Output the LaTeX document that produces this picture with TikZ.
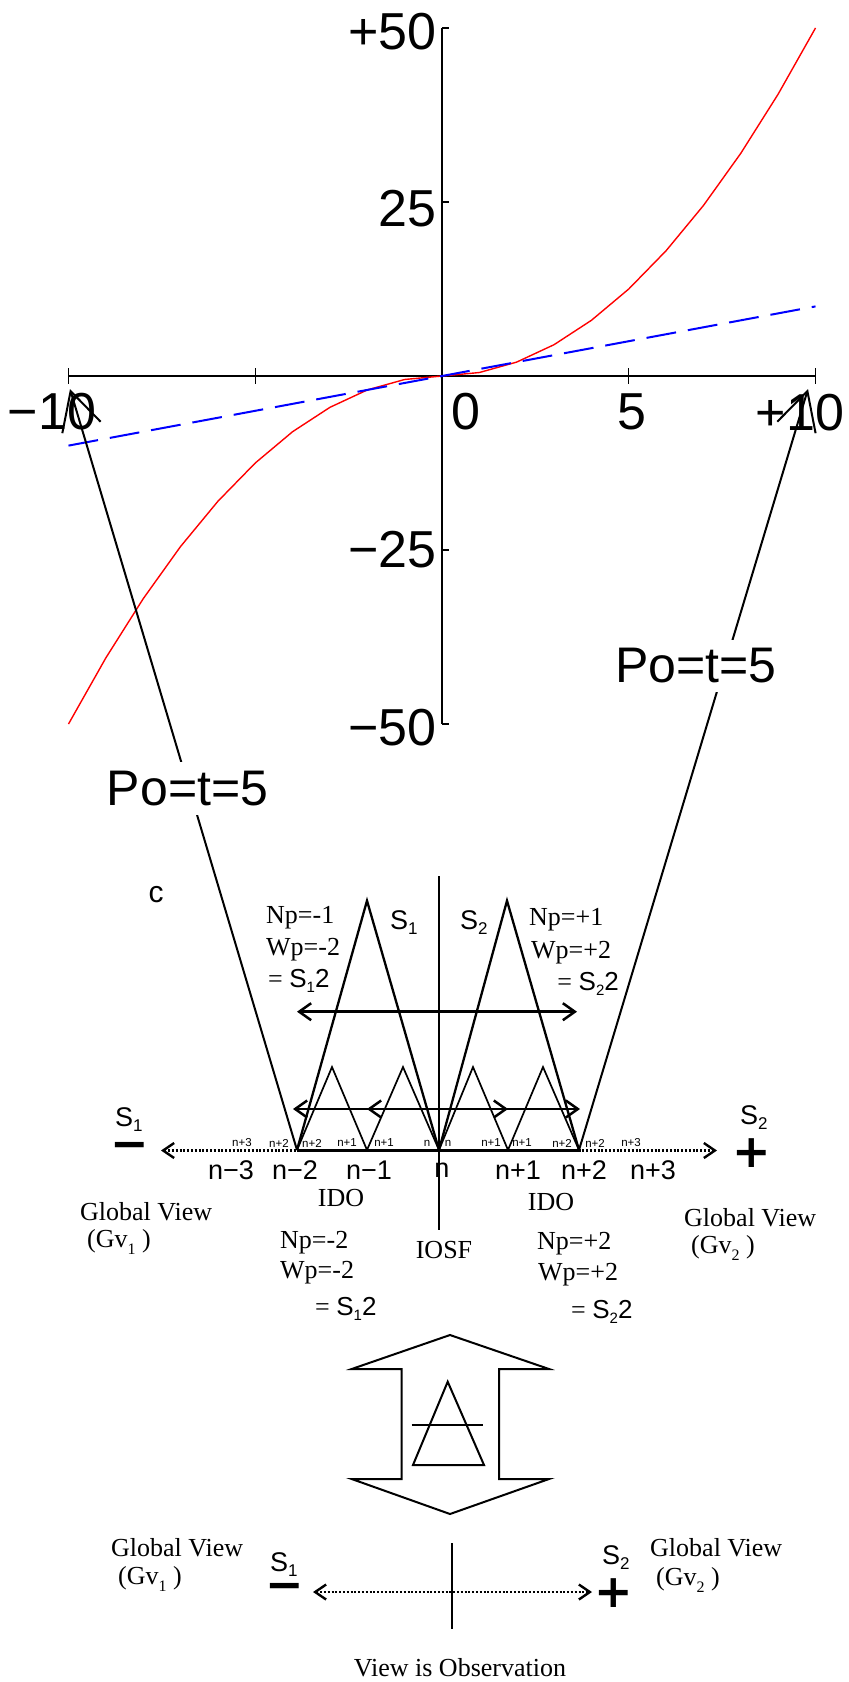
\documentclass[tikz,border=0pt]{standalone}
\usepackage{fontspec}
\usepackage{graphicx}
\setmainfont{Liberation Serif}
\setsansfont{Liberation Sans}
\newfontfamily\symfont{DejaVu Sans}
\usetikzlibrary{arrows.meta}
\newcommand\sbs[1]{\raisebox{-5pt}[0pt][0pt]{\fontsize{17}{17}\selectfont #1}}
\newcommand\ssb[1]{\raisebox{-5pt}[0pt][0pt]{\fontsize{15}{15}\selectfont #1}}
\newcommand\gsb[1]{\raisebox{-0.25em}{\fontsize{16}{16}\selectfont #1}}
\tikzset{
  bigbarb/.tip={Straight Barb[length=38pt,width=40pt]},
  midbarb/.tip={Straight Barb[length=12pt,width=17pt]},
  dotbarb/.tip={Straight Barb[length=11pt,width=15pt]},
  axisline/.style={line width=1.3pt},
  redcurve/.style={red, line width=1.4pt},
  bluecurve/.style={blue, line width=2pt, dash pattern=on 30pt off 12pt},
  numlbl/.style={font=\sffamily\fontsize{52}{52}\selectfont, inner sep=0pt},
  polbl/.style={font=\sffamily\fontsize{50}{50}\selectfont, fill=white, inner xsep=2pt, inner ysep=9pt},
  poline/.style={line width=2pt},
  bigtri/.style={line width=2.3pt, line join=miter},
  smalltri/.style={line width=1.7pt},
  dblarrow/.style={line width=2.5pt, midbarb-midbarb},
  dotline/.style={line width=2.4pt, dash pattern=on 2pt off 1.8pt, dotbarb-dotbarb},
  serif/.style={font=\rmfamily\fontsize{26}{28}\selectfont, inner sep=0pt},
  nlbl/.style={font=\sffamily\fontsize{27}{27}\selectfont, inner sep=0pt},
  tinylbl/.style={font=\sffamily\fontsize{11.5}{11.5}\selectfont, inner sep=0pt},
  slbl/.style={font=\sffamily\fontsize{27}{27}\selectfont, inner sep=0pt, anchor=base west},
  symlbl/.style={font=\symfont\bfseries\fontsize{46}{46}\selectfont, inner sep=0pt},
}
\begin{document}
\begin{tikzpicture}[x=1pt,y=-1pt]
\useasboundingbox (0,0) rectangle (849,1682);
% ---------------- graph ----------------
\coordinate (xl) at (68.5,376);
\coordinate (xr) at (815.5,376);
\coordinate (yt) at (442,28);
\coordinate (yb) at (442,724);
\draw[axisline] (xl) -- (xr);
\draw[axisline] (yt) -- (yb);
\foreach \t in {-10,-5,5,10} \draw[axisline] ({442+37.35*\t},368) -- ({442+37.35*\t},384);
\foreach \t in {-50,-25,25,50} \draw[axisline] (442,{376-6.96*\t}) -- (449,{376-6.96*\t});
\draw[redcurve] plot[domain=-10:10, samples=21] ({442+37.35*\x},{376-6.96*(\x*abs(\x)/2)});
\draw[bluecurve] (68.5,445.6) -- (815.5,306.4);
\node[numlbl, anchor=east] (yl50) at (437,32) {+50};
\node[numlbl, anchor=east] (yl25) at (437,209) {25};
\node[numlbl, anchor=east] (ylm25) at (437,550) {−25};
\node[numlbl, anchor=east] (ylm50) at (437,728) {−50};
\node[numlbl] (xlm10) at (52,412) {−10};
\node[numlbl] (xl0) at (466,412) {0};
\node[numlbl] (xl5) at (632,412) {5};
\node[numlbl] (xl10) at (800,413) {+10};
% ---------------- Po lines ----------------
\coordinate (tipL) at (70,389);
\coordinate (tipR) at (808,389);
\coordinate (nm2) at (297,1150);
\coordinate (np2) at (579,1150);
\draw[poline, -bigbarb] (nm2) -- (tipL);
\draw[poline, -bigbarb] (np2) -- (tipR);
\node[polbl] (poL) at (187.5,788.5) {Po=t=5};
\node[polbl] (poR) at (696,666) {Po=t=5};
% ---------------- triangles ----------------
\coordinate (nm1) at (367,1150);
\coordinate (n0) at (439,1150);
\coordinate (np1) at (508,1150);
\draw[bigtri] (nm2) -- (367,900.7) -- (n0);
\draw[bigtri] (n0) -- (507,900.7) -- (np2);
\draw[smalltri] (nm2) -- (332,1067) -- (nm1);
\draw[smalltri] (nm1) -- (403,1067) -- (n0);
\draw[smalltri] (n0) -- (473,1067) -- (np1);
\draw[smalltri] (np1) -- (543,1067) -- (np2);
\draw[line width=2.3pt] (439,876) -- (439,1230);
\draw[dblarrow] (297,1011.7) -- (577,1011.7);
\draw[dblarrow] (293,1109) -- (580,1109);
\draw[dblarrow] (367,1109) -- (508,1109);
\draw[dotline] (161,1150.5) -- (717,1150.5);
\draw[line width=3pt] (nm2) -- (np2);
% tiny labels
\foreach \xx/\tt [count=\i] in {242/n+3,279/n+2,312/n+2,347/n+1,384/n+1,427/n,448/n,491/n+1,522/n+1,562/n+2,595/n+2,631/n+3}
  \node[tinylbl] (tl\i) at (\xx,1143) {\tt};
% n labels
\node[nlbl] (lnm3) at (231,1170) {n−3};
\node[nlbl] (lnm2) at (295,1170) {n−2};
\node[nlbl] (lnm1) at (369,1170) {n−1};
\node[nlbl] (ln0) at (442,1170) {n};
\node[nlbl] (lnp1) at (518,1170) {n+1};
\node[nlbl] (lnp2) at (584,1170) {n+2};
\node[nlbl] (lnp3) at (653,1170) {n+3};
% S labels and signs
\node[font=\sffamily\fontsize{30}{30}\selectfont, inner sep=0pt] (cc) at (156,895) {c};
\node[slbl] (S1a) at (390,929) {S\sbs{1}};
\node[slbl] (S2a) at (460,929) {S\sbs{2}};
\node[slbl] (S1b) at (115,1126) {S\sbs{1}};
\node[slbl] (S2b) at (740,1124) {S\sbs{2}};
\node[symlbl] (minA) at (130,1151) {−};
\node[symlbl] (plusA) at (752,1153) {+};
% serif texts upper
\node[serif, anchor=west] (tNp1) at (266,918) {Np=-1};
\node[serif, anchor=west] (tWp1) at (266,950) {Wp=-2};
\node[serif, anchor=west] (tEq1) at (268,979) {= \textsf{S\ssb{1}2}};
\node[serif, anchor=west] (tNp2) at (529,920) {Np=+1};
\node[serif, anchor=west] (tWp2) at (531,953) {Wp=+2};
\node[serif, anchor=east] (tEq2) at (619,982) {= \textsf{S\ssb{2}2}};
% serif texts lower
\node[serif] (ido1) at (341,1198) {IDO};
\node[serif] (ido2) at (551,1202) {IDO};
\node[serif] (iosf) at (444,1250) {IOSF};
\node[serif, anchor=west] (gv1) at (80,1212) {Global View};
\node[serif, anchor=west] (gv1b) at (87,1242) {(Gv\gsb{1} )};
\node[serif, anchor=west] (gv2) at (684,1218) {Global View};
\node[serif, anchor=west] (gv2b) at (691,1248) {(Gv\gsb{2} )};
\node[serif, anchor=west] (bNp1) at (280,1243) {Np=-2};
\node[serif, anchor=west] (bWp1) at (280,1273) {Wp=-2};
\node[serif, anchor=west] (bEq1) at (315,1307) {= \textsf{S\ssb{1}2}};
\node[serif, anchor=west] (bNp2) at (537,1244) {Np=+2};
\node[serif, anchor=west] (bWp2) at (538,1275) {Wp=+2};
\node[serif, anchor=west] (bEq2) at (571,1310) {= \textsf{S\ssb{2}2}};
% ---------------- big double arrow ----------------
\draw[line width=2pt, line join=miter] (450,1335) -- (351.7,1369) -- (401.7,1369) -- (401.7,1479) -- (351.7,1479)
  -- (450,1514) -- (549,1479) -- (499,1479) -- (499,1369) -- (549,1369) -- cycle;
\draw[line width=2pt] (447.7,1381.7) -- (413,1465) -- (484,1465) -- cycle;
\draw[line width=2pt] (411.7,1425) -- (483,1425);
% ---------------- bottom ----------------
\node[serif, anchor=west] (gv3) at (111,1548) {Global View};
\node[serif, anchor=west] (gv3b) at (118,1579) {(Gv\gsb{1} )};
\node[serif, anchor=west] (gv4) at (650,1548) {Global View};
\node[serif, anchor=west] (gv4b) at (656,1580) {(Gv\gsb{2} )};
\node[slbl] (S1c) at (270,1571) {S\sbs{1}};
\node[slbl] (S2c) at (602,1564) {S\sbs{2}};
\node[symlbl] (minB) at (285,1592) {−};
\node[symlbl] (plusB) at (614,1593) {+};
\coordinate (dl) at (313,1592);
\coordinate (dr) at (592,1592);
\draw[dotline] (dl) -- (dr);
\draw[line width=2pt] (452,1543) -- (452,1629);
\node[serif] (obs) at (460,1668) {View is Observation};
\end{tikzpicture}
\end{document}
